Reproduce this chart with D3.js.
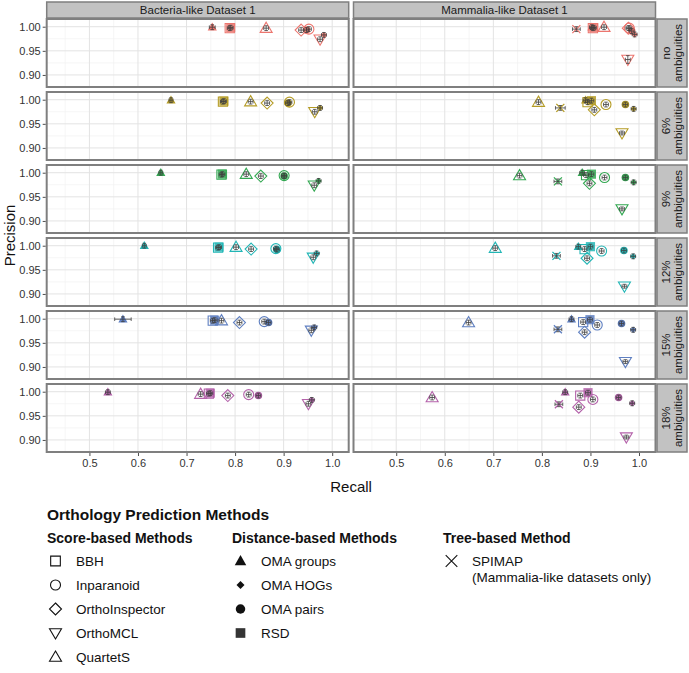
<!DOCTYPE html>
<html><head><meta charset="utf-8">
<script src="https://cdn.jsdelivr.net/npm/d3@7"></script>
<style>
body{margin:0;background:#fff}
svg{display:block}
text{font-family:"Liberation Sans",Arial,Helvetica,sans-serif}
</style>
</head><body>
<svg id="chart" width="689" height="673"></svg>
<script>
// ---------------- DATA ----------------
const datasets = ["Bacteria-like Dataset 1", "Mammalia-like Dataset 1"];
const levels = [["no","ambiguities"],["6%","ambiguities"],["9%","ambiguities"],["12%","ambiguities"],["15%","ambiguities"],["18%","ambiguities"]];
const rowColors = ["#EC766F","#B59C26","#33A852","#22B6B6","#5E7FC1","#B462AA"];
const xTicks = [0.5, 0.6, 0.7, 0.8, 0.9, 1.0];
const yTicks = [0.90, 0.95, 1.00];
const xMinor = [0.45, 0.55, 0.65, 0.75, 0.85, 0.95];
const yMinor = [0.925, 0.975];

// Bacteria-like dataset: recall (R) and precision (P) per ambiguity level
const bbhBactR  = [0.789, 0.775, 0.772, 0.765, 0.754, 0.746];
const bbhBactP  = [0.997, 0.996, 0.996, 0.996, 0.996, 0.996];
const inpBactR  = [0.952, 0.912, 0.901, 0.884, 0.860, 0.828];
const inpBactP  = [0.995, 0.995, 0.994, 0.994, 0.994, 0.994];
const oiBactR   = [0.936, 0.866, 0.853, 0.833, 0.809, 0.785];
const oiBactP   = [0.993, 0.993, 0.993, 0.993, 0.992, 0.992];
const omclBactR = [0.975, 0.964, 0.963, 0.961, 0.957, 0.951];
const omclBactP = [0.974, 0.975, 0.974, 0.976, 0.976, 0.975];
const qsBactR   = [0.864, 0.832, 0.823, 0.802, 0.772, 0.729];
const qsBactP   = [0.997, 0.996, 0.997, 0.997, 0.996, 0.995];
const ogBactR   = [0.753, 0.668, 0.647, 0.613, 0.569, 0.538];
const ogBactP   = [0.999, 0.999, 1.000, 1.000, 0.999, 0.999];
const hogBactR  = [0.983, 0.975, 0.972, 0.968, 0.963, 0.958];
const hogBactP  = [0.983, 0.983, 0.983, 0.984, 0.982, 0.983];
const opBactR   = [0.947, 0.909, 0.901, 0.886, 0.869, 0.848];
const opBactP   = [0.993, 0.993, 0.993, 0.992, 0.992, 0.992];
const rsdBactR  = [0.791, 0.777, 0.774, 0.767, 0.758, 0.749];
const rsdBactP  = [0.998, 0.997, 0.997, 0.997, 0.997, 0.997];

// Mammalia-like dataset
const bbhMammR  = [0.905, 0.894, 0.891, 0.888, 0.885, 0.879];
const bbhMammP  = [0.997, 0.995, 0.995, 0.993, 0.993, 0.992];
const inpMammR  = [0.980, 0.932, 0.929, 0.923, 0.914, 0.905];
const inpMammP  = [0.997, 0.990, 0.990, 0.989, 0.987, 0.984];
const oiMammR   = [0.978, 0.908, 0.898, 0.893, 0.888, 0.876];
const oiMammP   = [0.997, 0.979, 0.978, 0.974, 0.972, 0.968];
const omclMammR = [0.977, 0.965, 0.965, 0.970, 0.972, 0.974];
const omclMammP = [0.932, 0.931, 0.925, 0.916, 0.911, 0.906];
const qsMammR   = [0.928, 0.793, 0.754, 0.704, 0.649, 0.574];
const qsMammP   = [0.999, 0.995, 0.994, 0.995, 0.992, 0.988];
const ogMammR   = [0.903, 0.890, 0.883, 0.875, 0.861, 0.848];
const ogMammP   = [0.999, 0.999, 1.000, 0.998, 0.999, 0.999];
const hogMammR  = [0.991, 0.989, 0.989, 0.988, 0.988, 0.986];
const hogMammP  = [0.984, 0.981, 0.980, 0.978, 0.977, 0.976];
const opMammR   = [0.985, 0.972, 0.972, 0.969, 0.964, 0.958];
const opMammP   = [0.991, 0.990, 0.990, 0.990, 0.990, 0.988];
const rsdMammR  = [0.907, 0.902, 0.902, 0.900, 0.899, 0.895];
const rsdMammP  = [0.998, 0.998, 0.997, 0.998, 0.998, 0.998];
const spiMammR  = [0.871, 0.838, 0.833, 0.830, 0.833, 0.835];
const spiMammP  = [0.995, 0.983, 0.982, 0.979, 0.978, 0.974];

// error bar half-widths
const defaultErr = 0.005;
const ogBactRErr   = [0.006, 0.004, 0.004, 0.004, 0.017, 0.005];
const spiMammRErr  = [0.008, 0.010, 0.008, 0.008, 0.008, 0.008];
const omclMammPErr = [0.008, 0.004, 0.004, 0.004, 0.004, 0.004];

// method -> shape, drawing order
const methodOrder = ["BBH","Inparanoid","OMA groups","OMA HOGs","OMA pairs","OrthoInspector","OrthoMCL","QuartetS","RSD","SPIMAP"];
const methodShape = {"BBH":"square","Inparanoid":"circle","OrthoInspector":"diamond","OrthoMCL":"triDown","QuartetS":"triUp",
  "OMA groups":"triUpFill","OMA HOGs":"diamondFill","OMA pairs":"circleFill","RSD":"squareFill","SPIMAP":"cross"};
const seriesTable = [
  ["BBH",0,bbhBactR,bbhBactP],["Inparanoid",0,inpBactR,inpBactP],["OMA groups",0,ogBactR,ogBactP,ogBactRErr],
  ["OMA HOGs",0,hogBactR,hogBactP],["OMA pairs",0,opBactR,opBactP],["OrthoInspector",0,oiBactR,oiBactP],
  ["OrthoMCL",0,omclBactR,omclBactP],["QuartetS",0,qsBactR,qsBactP],["RSD",0,rsdBactR,rsdBactP],
  ["BBH",1,bbhMammR,bbhMammP],["Inparanoid",1,inpMammR,inpMammP],["OMA groups",1,ogMammR,ogMammP],
  ["OMA HOGs",1,hogMammR,hogMammP],["OMA pairs",1,opMammR,opMammP],["OrthoInspector",1,oiMammR,oiMammP],
  ["OrthoMCL",1,omclMammR,omclMammP,null,omclMammPErr],["QuartetS",1,qsMammR,qsMammP],["RSD",1,rsdMammR,rsdMammP],
  ["SPIMAP",1,spiMammR,spiMammP,spiMammRErr]
];

// legend content
const legendTitle = "Orthology Prediction Methods";
const legendGroups = [
  {title:"Score-based Methods", items:[["BBH","square"],["Inparanoid","circle"],["OrthoInspector","diamond"],["OrthoMCL","triDown"],["QuartetS","triUp"]]},
  {title:"Distance-based Methods", items:[["OMA groups","triUpFill"],["OMA HOGs","diamondFill"],["OMA pairs","circleFill"],["RSD","squareFill"]]},
  {title:"Tree-based Method", items:[["SPIMAP","cross"]], note:"(Mammalia-like datasets only)"}
];

// ---------------- LAYOUT ----------------
const svg = d3.select("#chart");
const panelLeft = [46.7, 353.5];
const panelW = 302, panelH = 68, rowPitch = 73, firstTop = 19;
const stripX = 657, stripW = 30;
const rowTop = i => firstTop + rowPitch * i;
const borderCol = "#7f7f7f";

function shapePath(s, k) {
  k = k || 1;
  switch (s) {
    case "square": case "squareFill": { const h = 4.6*k; return `M${-h},${-h}H${h}V${h}H${-h}Z`; }
    case "diamond": { const h = 6*k; return `M0,${-h}L${h},0L0,${h}L${-h},0Z`; }
    case "diamondFill": { const h = 3.2*k; return `M0,${-h}L${h},0L0,${h}L${-h},0Z`; }
    case "triUp": { return `M0,${-6*k}L${6*k},${4.2*k}L${-6*k},${4.2*k}Z`; }
    case "triUpFill": { return `M0,${-4.8*k}L${4.6*k},${3.4*k}L${-4.6*k},${3.4*k}Z`; }
    case "triDown": { return `M0,${6*k}L${6*k},${-4.2*k}L${-6*k},${-4.2*k}Z`; }
    case "cross": { const h = 4*k; return `M${-h},${-h}L${h},${h}M${-h},${h}L${h},${-h}`; }
  }
  return "";
}
function drawShape(g, s, x, y, col, k) {
  if (s === "circle" || s === "circleFill") {
    const c = g.append("circle").attr("cx", x).attr("cy", y).attr("r", (s === "circle" ? 5 : 3.8) * (k||1));
    if (s === "circle") c.attr("fill", "none").attr("stroke", col).attr("stroke-width", 1.1);
    else c.attr("fill", col);
    return;
  }
  const p = g.append("path").attr("d", shapePath(s, k)).attr("transform", `translate(${x},${y})`);
  if (s.endsWith("Fill")) p.attr("fill", col).attr("fill-opacity", s === "squareFill" ? 0.85 : 1);
  else if (s === "cross") p.attr("fill", "none").attr("stroke", col).attr("stroke-width", 1.3);
  else p.attr("fill", "none").attr("stroke", col).attr("stroke-width", 1.1);
}

const xScales = panelLeft.map(x0 => d3.scaleLinear().domain([0.412, 1.034]).range([x0, x0 + panelW]));
const yScales = levels.map((_, i) => d3.scaleLinear().domain([0.875, 1.016]).range([rowTop(i) + panelH, rowTop(i)]));

// strips on top
datasets.forEach((name, d) => {
  svg.append("rect").attr("x", panelLeft[d]).attr("y", 2).attr("width", panelW).attr("height", 16)
    .attr("fill", "#c2c2c2").attr("stroke", borderCol).attr("stroke-width", 1.5);
  svg.append("text").attr("x", panelLeft[d] + panelW/2).attr("y", 14).attr("text-anchor", "middle")
    .attr("font-size", 11.5).attr("fill", "#1a1a1a").text(name);
});

levels.forEach((lab, i) => {
  const top = rowTop(i);
  // right strip
  svg.append("rect").attr("x", stripX).attr("y", top).attr("width", stripW).attr("height", panelH)
    .attr("fill", "#c2c2c2").attr("stroke", borderCol).attr("stroke-width", 1.5);
  const st = svg.append("text").attr("transform", `translate(${stripX + stripW/2},${top + panelH/2}) rotate(-90)`)
    .attr("text-anchor", "middle").attr("font-size", 11.5).attr("fill", "#1a1a1a");
  st.append("tspan").attr("x", 0).attr("y", -2).text(lab[0]);
  st.append("tspan").attr("x", 0).attr("y", 9.7).text(lab[1]);

  datasets.forEach((_, d) => {
    const xs = xScales[d], ys = yScales[i];
    const g = svg.append("g");
    g.append("rect").attr("x", panelLeft[d]).attr("y", top).attr("width", panelW).attr("height", panelH).attr("fill", "#fff");
    // minor grid
    xMinor.forEach(v => g.append("line").attr("x1", xs(v)).attr("x2", xs(v)).attr("y1", top).attr("y2", top + panelH)
      .attr("stroke", "#f0f0f0").attr("stroke-width", 0.7));
    yMinor.forEach(v => g.append("line").attr("y1", ys(v)).attr("y2", ys(v)).attr("x1", panelLeft[d]).attr("x2", panelLeft[d] + panelW)
      .attr("stroke", "#f0f0f0").attr("stroke-width", 0.7));
    // major grid
    xTicks.forEach(v => g.append("line").attr("x1", xs(v)).attr("x2", xs(v)).attr("y1", top).attr("y2", top + panelH)
      .attr("stroke", "#e3e3e3").attr("stroke-width", 1));
    yTicks.forEach(v => g.append("line").attr("y1", ys(v)).attr("y2", ys(v)).attr("x1", panelLeft[d]).attr("x2", panelLeft[d] + panelW)
      .attr("stroke", "#e3e3e3").attr("stroke-width", 1));

    // points
    const col = rowColors[i];
    const rows = seriesTable.filter(s => s[1] === d)
      .sort((a, b) => methodOrder.indexOf(a[0]) - methodOrder.indexOf(b[0]));
    const pts = g.append("g");
    const errs = g.append("g");
    rows.forEach(s => {
      const [m, , R, P, RE, PE] = s;
      const x = xs(R[i]), y = ys(P[i]);
      drawShape(pts, methodShape[m], x, y, col);
      const er = RE ? RE[i] : defaultErr, ep = PE ? PE[i] : defaultErr;
      const x1 = xs(R[i] - er), x2 = xs(R[i] + er), y1 = ys(P[i] + ep), y2 = ys(P[i] - ep);
      const ec = "#404040", cap = 1.8;
      errs.append("path").attr("d",
        `M${x1},${y}H${x2}M${x1},${y - cap}V${y + cap}M${x2},${y - cap}V${y + cap}` +
        `M${x},${y1}V${y2}M${x - cap},${y1}H${x + cap}M${x - cap},${y2}H${x + cap}`)
        .attr("stroke", ec).attr("stroke-width", 0.9).attr("fill", "none").attr("stroke-opacity", 0.9);
    });

    g.append("rect").attr("x", panelLeft[d]).attr("y", top).attr("width", panelW).attr("height", panelH)
      .attr("fill", "none").attr("stroke", borderCol).attr("stroke-width", 2);

    // y axis on left column
    if (d === 0) {
      const ax = svg.append("g").attr("transform", `translate(${panelLeft[0] - 1},0)`)
        .call(d3.axisLeft(ys).tickValues(yTicks).tickFormat(d3.format(".2f")).tickSize(3).tickPadding(2));
      ax.select(".domain").remove();
      ax.selectAll("line").attr("stroke", "#4d4d4d");
      ax.selectAll("text").attr("font-size", 11).attr("fill", "#333")
        .style("font-family", '"Liberation Sans",Arial,Helvetica,sans-serif');
    }
    if (i === levels.length - 1) {
      const ax = svg.append("g").attr("transform", `translate(0,${top + panelH + 1})`)
        .call(d3.axisBottom(xs).tickValues(xTicks).tickFormat(d3.format(".1f")).tickSize(3).tickPadding(3));
      ax.select(".domain").remove();
      ax.selectAll("line").attr("stroke", "#4d4d4d");
      ax.selectAll("text").attr("font-size", 11).attr("fill", "#333")
        .style("font-family", '"Liberation Sans",Arial,Helvetica,sans-serif');
    }
  });
});

// axis titles
svg.append("text").attr("x", (panelLeft[0] + panelLeft[1] + panelW) / 2).attr("y", 492)
  .attr("text-anchor", "middle").attr("font-size", 15).attr("fill", "#111").text("Recall");
svg.append("text").attr("transform", `translate(15,${(firstTop + rowTop(5) + panelH) / 2}) rotate(-90)`)
  .attr("text-anchor", "middle").attr("font-size", 15).attr("fill", "#111").text("Precision");

// legend
svg.append("text").attr("x", 47).attr("y", 520).attr("font-size", 15.5).attr("font-weight", "bold")
  .attr("fill", "#111").text(legendTitle);
const groupX = [47, 232, 443];
const legendScale = {square: 1.05, circle: 1.0, diamond: 1.0, triDown: 1.0, triUp: 1.0,
  triUpFill: 1.25, diamondFill: 1.25, circleFill: 1.25, squareFill: 1.05, cross: 1.45};
legendGroups.forEach((grp, gi) => {
  const gx = groupX[gi];
  svg.append("text").attr("x", gx).attr("y", 543).attr("font-size", 14).attr("font-weight", "bold")
    .attr("fill", "#111").text(grp.title);
  grp.items.forEach((it, k) => {
    const cy = 561 + 24 * k;
    const lg = svg.append("g");
    drawShape(lg, it[1], gx + 8.5, cy, "#111", legendScale[it[1]]);
    if (it[1] === "cross") lg.select("path").attr("stroke-width", 1.1);
    svg.append("text").attr("x", gx + 29).attr("y", cy + 4.8).attr("font-size", 13.5).attr("fill", "#111").text(it[0]);
  });
  if (grp.note) {
    svg.append("text").attr("x", gx + 29).attr("y", 582).attr("font-size", 13.5).attr("fill", "#111").text(grp.note);
  }
});
</script>
</body></html>
